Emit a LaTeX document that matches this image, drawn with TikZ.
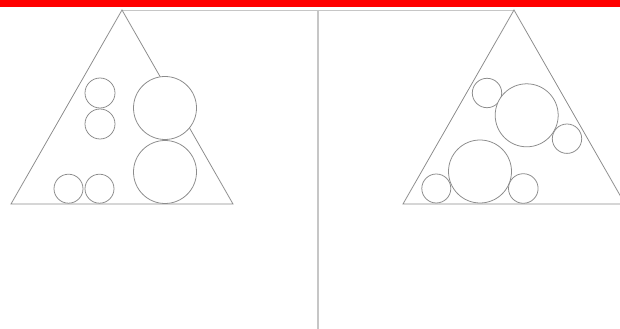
\documentclass[tikz,border=0pt]{standalone}
\usepackage{tikz}
\definecolor{barred}{HTML}{FF0000}
\definecolor{edgegray}{HTML}{8C8C8C}
\definecolor{railgray}{HTML}{C6C6C6}
\definecolor{paper}{HTML}{FFFFFF}
\tikzset{
  triangle/.style={draw=edgegray,line width=1.1pt,line join=miter},
  ball/.style={draw=edgegray,fill=paper,line width=1.1pt},
  topline/.style={draw=railgray,line width=1.4pt},
  divider/.style={draw=railgray,line width=2.6pt}
}

\begin{document}
\begin{tikzpicture}[x=0.05cm,y=-0.05cm]
  \useasboundingbox (0,0) rectangle (620,329);
  \clip (0,0) rectangle (620,329);
  \fill[paper] (0,0) rectangle (620,329);
  \fill[barred] (0,0) rectangle (620,7);

  % frame lines
  \coordinate (la) at (122,10);
  \coordinate (ra) at (514,10);
  \coordinate (dtop) at (318,10);
  \coordinate (dbot) at (318,329);
  \draw[topline] (la) -- (ra);
  \draw[divider] (dtop) -- (dbot);

  % left triangle
  \draw[triangle] (la) -- (11,204) -- (233,204) -- cycle;
  \draw[ball] (100,93) circle (15);
  \draw[ball] (100,124) circle (15);
  \draw[ball] (165,108) circle (31.5);
  \draw[ball] (165,172) circle (31.5);
  \draw[ball] (68.5,188.7) circle (14.5);
  \draw[ball] (99.5,188.7) circle (14.5);

  % right triangle
  \draw[triangle] (ra) -- (403,204) -- (625,204) -- cycle;
  \draw[ball] (487,93) circle (14.7);
  \draw[ball] (526.7,115.3) circle (31.5);
  \draw[ball] (567,138.7) circle (14.7);
  \draw[ball] (480,171.5) circle (31.5);
  \draw[ball] (436.3,188.5) circle (14.5);
  \draw[ball] (523.3,188.5) circle (14.8);
\end{tikzpicture}
\end{document}
